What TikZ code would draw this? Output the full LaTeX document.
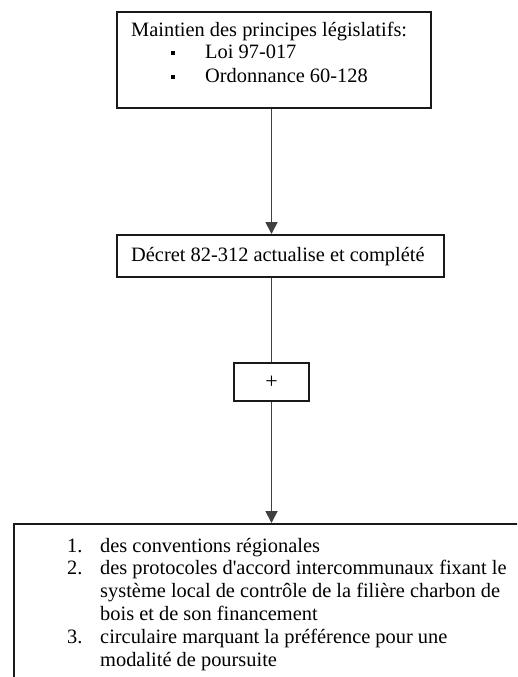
\documentclass[tikz,border=0pt]{standalone}
\usepackage{fontspec}
\setmainfont{Liberation Serif}
\usetikzlibrary{arrows.meta, positioning, calc}

\begin{document}
\begin{tikzpicture}[x=1pt, y=-1pt,
        box/.style={draw=black!90, line width=1.8pt, rectangle, anchor=north west, inner sep=0pt},
        conn/.style={draw=black!75, line width=1.8pt},
        txt/.style={anchor=base west, inner sep=0pt, font=\fontsize{20.4}{22.8}\selectfont},
        puce/.style={rectangle, fill=black, inner sep=0pt, minimum size=4.5pt}]
        \useasboundingbox (0, 0) rectangle (517, 677);
        \clip (0, 0) rectangle (517, 677);

        % cadres
        \node[box, minimum width=314pt, minimum height=96pt] (lois) at (116, 11) {};
        \node[box, minimum width=327pt, minimum height=42pt] (decret) at (116, 234) {};
        \node[box, minimum width=75pt, minimum height=38pt, anchor=center, font=\fontsize{22}{24}\selectfont] (plus) at (271.5, 382) {+};
        \node[box, minimum width=540pt, minimum height=220pt] (textes) at (13, 523) {};

        % textes
        \node[txt] (l0) at (131, 37) {Maintien des principes législatifs:};
        \node[puce] (p1) at (173, 53) {};
        \node[txt] (l1) at (205, 59) {Loi 97-017};
        \node[puce] (p2) at (173, 77) {};
        \node[txt] (l2) at (205, 82) {Ordonnance 60-128};

        \node[txt] (d0) at (131, 261) {Décret 82-312 actualise et complété};

        \node[txt] (n1) at (67, 552) {1.};
        \node[txt] (c1) at (100, 552) {des conventions régionales};
        \node[txt] (n2) at (67, 574) {2.};
        \node[txt] (c2) at (100, 574) {des protocoles d\textquotesingle accord intercommunaux fixant le};
        \node[txt] (c3) at (100, 597) {système local de contrôle de la filière charbon de};
        \node[txt] (c4) at (100, 620) {bois et de son financement};
        \node[txt] (n3) at (67, 643) {3.};
        \node[txt] (c5) at (100, 643) {circulaire marquant la préférence pour une};
        \node[txt] (c6) at (100, 666) {modalité de poursuite};

        % liaisons
        \draw[conn, -{Triangle[length=12pt, width=12pt]}] (lois.south -| plus.north) -- (decret.north -| plus.north);
        \draw[conn] (decret.south -| plus.north) -- (plus.north);
        \draw[conn, -{Triangle[length=12pt, width=12pt]}] (plus.south) -- (textes.north -| plus.south);

      \end{tikzpicture}
\end{document}
